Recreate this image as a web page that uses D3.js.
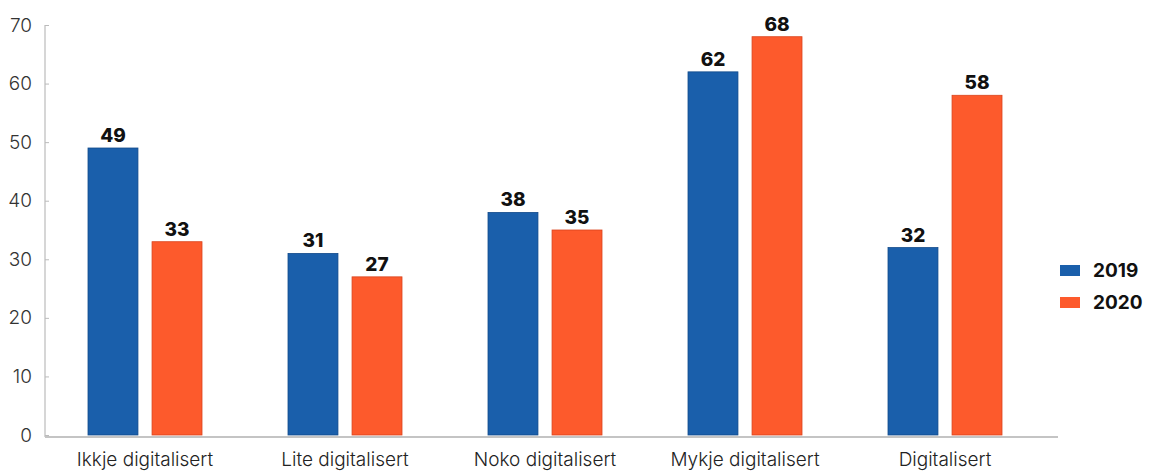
<!DOCTYPE html>
<html><head><meta charset="utf-8">
<script src="https://cdn.jsdelivr.net/npm/d3@7"></script>
<style>body{margin:0;background:#fff;}svg{display:block;font-family:Inter,"Noto Sans",sans-serif;}</style>
</head><body>
<svg id="c" width="1151" height="473"></svg>
<script>
const categories = ["Ikkje digitalisert","Lite digitalisert","Noko digitalisert","Mykje digitalisert","Digitalisert"];
const series = ["2019","2020"];
const values2019 = [49,31,38,62,32];
const values2020 = [33,27,35,68,58];
const yTicks = [0,10,20,30,40,50,60,70];
const colors = ["#1a5fab","#fd5a2c"];
const strokes = ["#124a8a","#d9431c"];

const svg = d3.select("#c");
const x0 = d3.scaleBand().domain(categories).range([45,1045]).paddingInner(0.43).paddingOuter(0.215);
const x1 = d3.scaleBand().domain(series).range([0,x0.bandwidth()]).paddingInner(0.22);
const y = d3.scaleLinear().domain([0,70]).range([435,25]);

// y axis
const yAxis = svg.append("g").attr("transform","translate(45,0)")
  .call(d3.axisLeft(y).tickValues(yTicks).tickSize(-4).tickPadding(13).tickFormat(d3.format("d")));
yAxis.select(".domain").attr("stroke","#c8c8c8").attr("stroke-width",1.5).attr("d","M0,25V437");
yAxis.selectAll(".tick line").attr("stroke","#bbb");
yAxis.selectAll(".tick text").attr("fill","#333").attr("font-size",19).attr("font-weight",300).attr("font-family","Inter,sans-serif");

// baseline
svg.append("line").attr("x1",45).attr("x2",1058).attr("y1",437).attr("y2",437).attr("stroke","#c4c4c4").attr("stroke-width",2);

const data = categories.map((c,i)=>({cat:c, vals:[values2019[i],values2020[i]]}));
const g = svg.append("g");
data.forEach(d=>{
  d.vals.forEach((v,j)=>{
    const xx = x0(d.cat)+x1(series[j]);
    g.append("rect").attr("x",xx).attr("y",y(v)).attr("width",x1.bandwidth()).attr("height",y(0)-y(v))
      .attr("fill",colors[j]).attr("stroke",strokes[j]).attr("stroke-width",0.8);
    g.append("text").attr("x",xx+x1.bandwidth()/2).attr("y",y(v)-6).attr("text-anchor","middle")
      .attr("font-size",19).attr("font-weight",800).attr("fill","#111").text(v);
  });
});

// x labels
svg.append("g").selectAll("text").data(categories).join("text")
  .attr("x",d=>x0(d)+x0.bandwidth()/2).attr("y",466).attr("text-anchor","middle")
  .attr("font-size",19).attr("font-weight",300).attr("fill","#222").text(d=>d);

// legend
const lg = svg.append("g");
series.forEach((s,i)=>{
  lg.append("rect").attr("x",1060).attr("y",265+i*32).attr("width",20).attr("height",11).attr("fill",colors[i]);
  lg.append("text").attr("x",1093).attr("y",277+i*32).attr("font-size",19).attr("font-weight",700).attr("fill","#111").text(s);
});
</script>
</body></html>
